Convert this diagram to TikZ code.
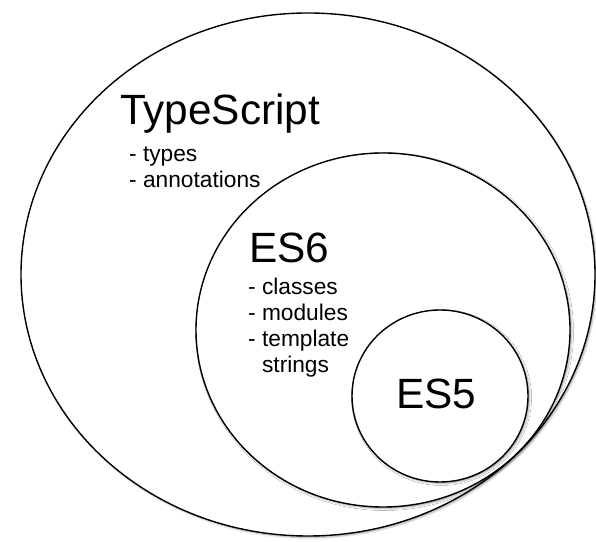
\documentclass[tikz,border=0pt]{standalone}
\usepackage{fontspec}
\setmainfont{Liberation Sans}
\usetikzlibrary{positioning,shapes.geometric,shadows.blur}

\begin{document}
\begin{tikzpicture}[
  x=1bp, y=1bp,
  langset/.style={
    ellipse,
    draw=black,
    fill=white,
    line width=1.4bp,
    inner sep=0pt,
    blur shadow={shadow xshift=1.5bp, shadow yshift=-1.5bp,
      shadow blur radius=2bp, shadow opacity=35}
  },
  langname/.style={
    anchor=base west,
    inner sep=0pt,
    font=\fontsize{42.5}{42.5}\selectfont
  },
  feature/.style={
    anchor=base west,
    inner sep=0pt,
    font=\fontsize{22.8}{26}\selectfont
  }
]
\useasboundingbox (0,0) rectangle (596,542);

% Nested sets, outermost first
\node[langset, minimum width=574bp, minimum height=523bp] (ts) at (308,267.5) {};
\node[langset, minimum width=374bp, minimum height=354bp] (es6) at (383,212) {};
\node[langset, minimum width=176bp, minimum height=172bp] (es5) at (440,146) {};

% TypeScript
\node[langname] (tsname) at (120,417) {TypeScript};
\node[feature] (tstypes) at (129,380) {- types};
\node[feature] (tsann) at (129,354) {- annotations};

% ES6
\node[langname] (esixname) at (249,279) {ES6};
\node[feature] (esixcls) at (248,247) {- classes};
\node[feature] (esixmod) at (248,221) {- modules};
\node[feature] (esixtpl) at (248,195) {- template};
\node[feature] (esixstr) at (248,169) {\phantom{- }strings};

% ES5
\node[langname] (efivename) at (396,133) {ES5};

\end{tikzpicture}
\end{document}
